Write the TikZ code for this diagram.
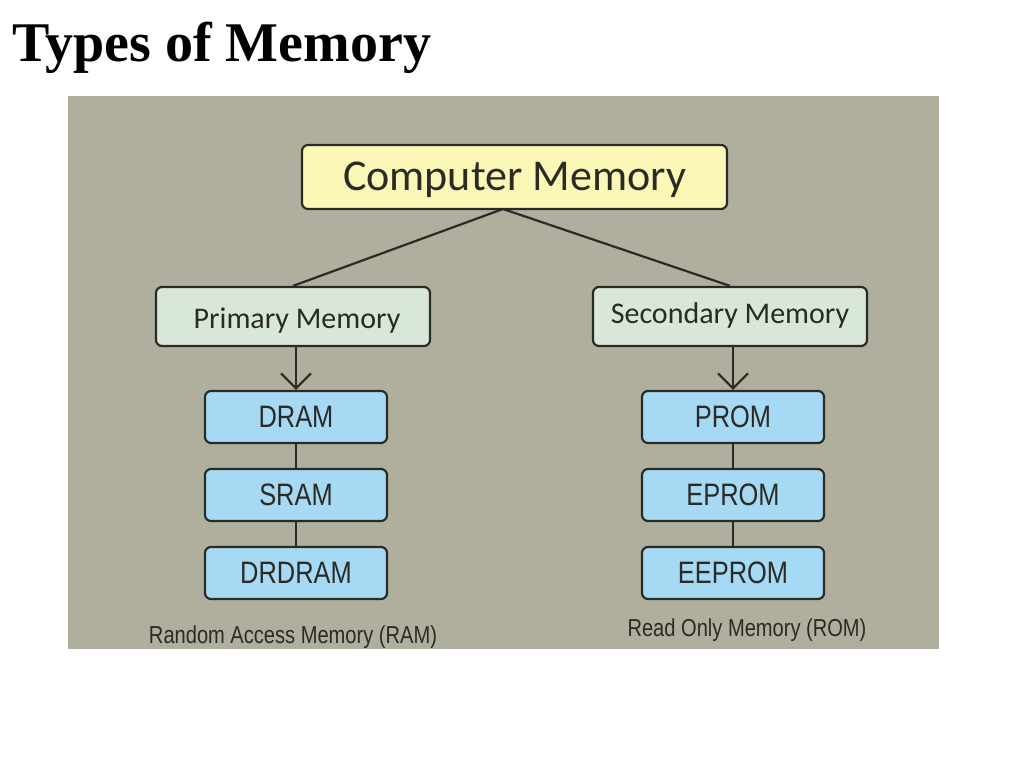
\documentclass[tikz,border=0pt]{standalone}
\usepackage{fontspec}
\setmainfont{Liberation Serif}
\newfontfamily\calfont{Carlito}
\newfontfamily\narrowfont[FakeStretch=0.82]{Liberation Sans}
\usetikzlibrary{arrows.meta}
\definecolor{panel}{HTML}{B0AE9C}
\definecolor{yelbox}{HTML}{FBF7B7}
\definecolor{grnbox}{HTML}{D8E7D9}
\definecolor{blubox}{HTML}{A6D9F3}
\definecolor{edge}{HTML}{2B2B26}
\begin{document}
\begin{tikzpicture}[x=1pt,y=-1pt,
  box/.style={draw=edge, line width=2.2pt, rounded corners=6pt, inner sep=0pt, text=edge},
  topbox/.style={box, fill=yelbox, minimum width=425pt, minimum height=64pt, text height=30pt, text depth=10pt, font=\calfont\fontsize{44}{48}\selectfont},
  midbox/.style={box, fill=grnbox, minimum width=274pt, minimum height=59pt, text height=21pt, text depth=7pt, font=\calfont\fontsize{30}{34}\selectfont},
  leafbox/.style={box, fill=blubox, minimum width=182pt, minimum height=52pt, font=\narrowfont\fontsize{31}{34}\selectfont},
  conn/.style={draw=edge, line width=2.2pt},
  lbl/.style={inner sep=0pt, text=edge, font=\narrowfont\fontsize{24.5}{28}\selectfont}
]
\useasboundingbox (0,0) rectangle (1024,768);
\fill[white] (0,0) rectangle (1024,768);
\node[anchor=base west, inner sep=0pt, font=\bfseries\fontsize{56}{60}\selectfont] (title) at (12,62) {Types of Memory};
\fill[panel] (68,96) rectangle (939,649);
\node[topbox] (cm) at (514.5,177) {\raisebox{-3pt}[0pt][0pt]{Computer Memory}};
\node[midbox] (pm) at (293,316.5) {\raisebox{-5pt}[0pt][0pt]{\hspace{8pt}Primary Memory}};
\node[midbox] (sm) at (730,316.5) {\raisebox{0pt}[0pt][0pt]{Secondary Memory}};
\node[leafbox] (dram) at (296,417) {DRAM};
\node[leafbox] (sram) at (296,495) {SRAM};
\node[leafbox] (drdram) at (296,573) {DRDRAM};
\node[leafbox] (prom) at (733,417) {PROM};
\node[leafbox] (eprom) at (733,495) {EPROM};
\node[leafbox] (eeprom) at (733,573) {EEPROM};
\node[lbl] (ram) at (293,637) {Random Access Memory (RAM)};
\node[lbl] (rom) at (747,630) {Read Only Memory (ROM)};
\coordinate (apex) at (503,209);
\draw[conn] (apex) -- (pm.north);
\draw[conn] (apex) -- (sm.north);
\draw[conn, -{Straight Barb[length=15pt,width=30pt,line width=2.2pt]}] (pm.south -| dram.north) -- (dram.north);
\draw[conn, -{Straight Barb[length=15pt,width=30pt,line width=2.2pt]}] (sm.south -| prom.north) -- (prom.north);
\draw[conn] (dram) -- (sram);
\draw[conn] (sram) -- (drdram);
\draw[conn] (prom) -- (eprom);
\draw[conn] (eprom) -- (eeprom);
\end{tikzpicture}
\end{document}
